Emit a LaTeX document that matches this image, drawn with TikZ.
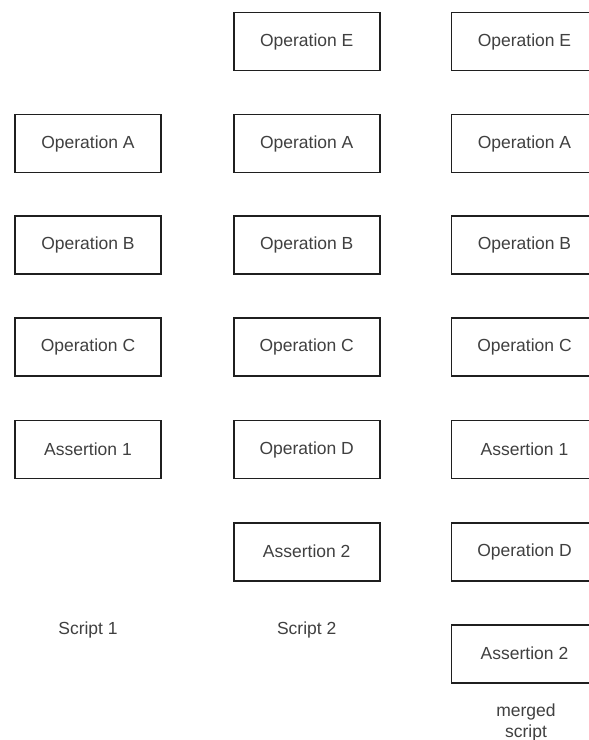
\documentclass[tikz,border=0pt]{standalone}
\usepackage{fontspec}
\setmainfont{Liberation Sans}
\begin{document}
\begin{tikzpicture}[x=1pt,y=-1pt,
  opbox/.style={draw=black!88, line width=1.8pt, minimum width=146pt, minimum height=58pt,
    inner sep=0pt, text=black!75, font=\fontsize{17.5}{20}\selectfont},
  caption/.style={text=black!75, font=\fontsize{17.5}{20.5}\selectfont, align=center}]
\clip (0,0) rectangle (589,740);
\fill[white] (0,0) rectangle (589,740);

% Script 1
\node[opbox] (s1a) at (88,143.5) {Operation A};
\node[opbox] (s1b) at (88,245) {Operation B};
\node[opbox] (s1c) at (88,347) {Operation C};
\node[opbox] (s1x) at (88,449.5) {Assertion 1};
\node[caption] (s1) at (88,630) {Script 1};

% Script 2
\node[opbox] (s2e) at (306.7,41.5) {Operation E};
\node[opbox] (s2a) at (306.7,143.5) {Operation A};
\node[opbox] (s2b) at (306.7,245) {Operation B};
\node[opbox] (s2c) at (306.7,347) {Operation C};
\node[opbox] (s2d) at (306.7,449.5) {Operation D};
\node[opbox] (s2y) at (306.7,551.7) {Assertion 2};
\node[caption] (s2) at (306.7,630) {Script 2};

% merged script
\node[opbox] (m1) at (524.5,41.5) {Operation E};
\node[opbox] (m2) at (524.5,143.5) {Operation A};
\node[opbox] (m3) at (524.5,245) {Operation B};
\node[opbox] (m4) at (524.5,347) {Operation C};
\node[opbox] (m5) at (524.5,449.5) {Assertion 1};
\node[opbox] (m6) at (524.5,551.7) {Operation D};
\node[opbox] (m7) at (524.5,653.7) {Assertion 2};
\node[caption] (ms) at (526,722.5) {merged\\script};
\end{tikzpicture}
\end{document}
